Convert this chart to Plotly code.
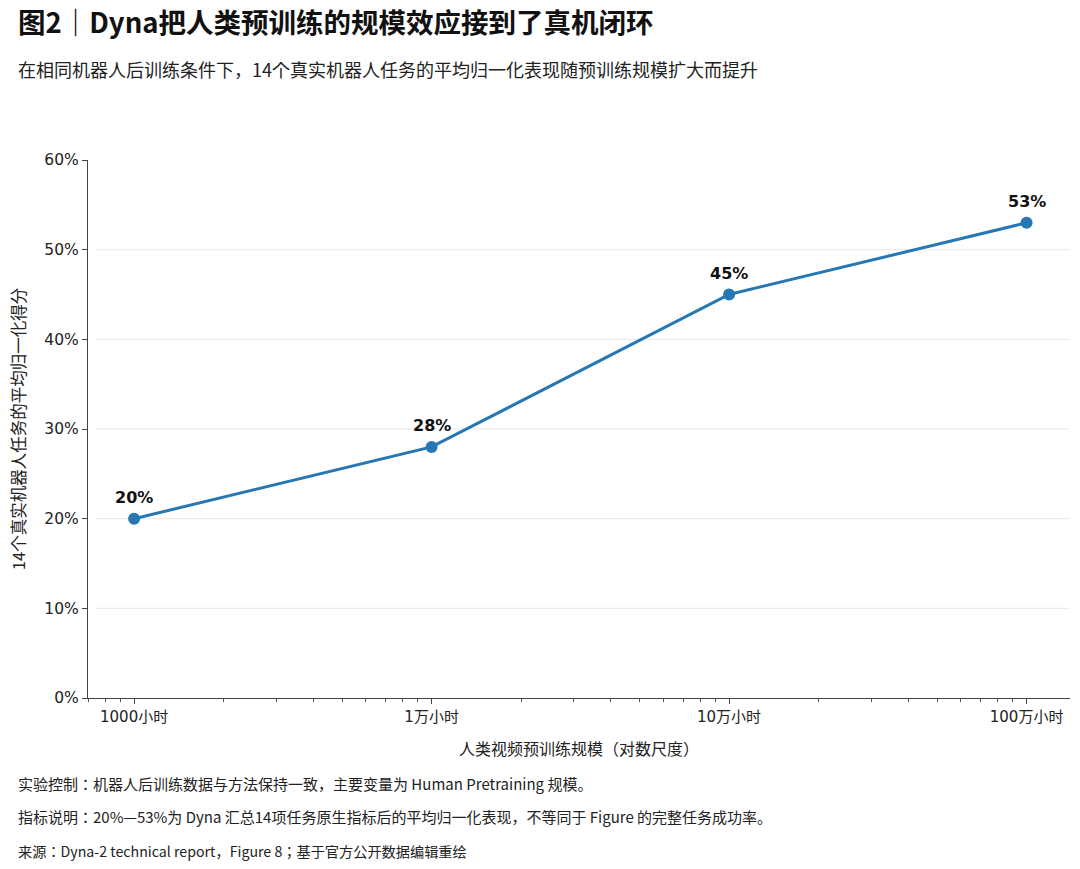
import math
import plotly.graph_objects as go

# ---- data ----
hours = [1000, 10000, 100000, 1000000]
tick_text = ["1000小时", "1万小时", "10万小时", "100万小时"]
scores = [20, 28, 45, 53]
point_labels = ["20%", "28%", "45%", "53%"]
y_ticks = [0, 10, 20, 30, 40, 50, 60]
y_tick_text = ["0%", "10%", "20%", "30%", "40%", "50%", "60%"]

title = "图2｜Dyna把人类预训练的规模效应接到了真机闭环"
subtitle = "在相同机器人后训练条件下，14个真实机器人任务的平均归一化表现随预训练规模扩大而提升"
x_title = "人类视频预训练规模（对数尺度）"
y_title = "14个真实机器人任务的平均归一化得分"
notes = [
    "实验控制：机器人后训练数据与方法保持一致，主要变量为 Human Pretraining 规模。",
    "指标说明：20%—53%为 Dyna 汇总14项任务原生指标后的平均归一化表现，不等同于 Figure 的完整任务成功率。",
    "来源：Dyna-2 technical report，Figure 8；基于官方公开数据编辑重绘",
]

W, H = 1080, 869
M_L, M_R, M_T, M_B = 88, 10, 160, 171
PLOT_H = H - M_T - M_B

def py_to_paper(py):
    return (H - M_B - py) / PLOT_H

def px_to_paper(px):
    return (px - M_L) / (W - M_L - M_R)

BLUE = "#2677b4"
num_font = "DejaVu Sans, Noto Sans CJK JP"
cjk_font = "Noto Sans CJK JP"

minor_vals = [m * 10 ** e for e in range(2, 7) for m in range(2, 10)]

fig = go.Figure()
fig.add_trace(go.Scatter(
    x=hours, y=scores, mode="lines+markers",
    line=dict(color=BLUE, width=3),
    marker=dict(color=BLUE, size=12),
    hoverinfo="skip", showlegend=False,
))

for xv, yv, lab in zip(hours, scores, point_labels):
    fig.add_annotation(x=math.log10(xv), y=yv, xref="x", yref="y", text=f"<b>{lab}</b>",
                       showarrow=False, yshift=21,
                       font=dict(family=num_font, size=16, color="#111111"))

# horizontal gridlines (no line at top)
for yv in y_ticks[1:-1]:
    fig.add_shape(type="line", xref="paper", yref="y", x0=0.008, x1=1, y0=yv, y1=yv,
                  line=dict(color="#e8e8e8", width=1), layer="below")

fig.update_xaxes(
    type="log", range=[2.845, 6.146],
    tickvals=hours, ticktext=tick_text,
    tickfont=dict(family=num_font, size=15, color="#222222"),
    ticks="outside", ticklen=5, tickwidth=1, tickcolor="#444444",
    showline=True, linecolor="#444444", linewidth=1.3,
    showgrid=False, zeroline=False,
    minor=dict(tickmode="array", tickvals=minor_vals, ticks="outside", ticklen=3,
               tickcolor="#555555", showgrid=False),
    title=dict(text=x_title, font=dict(family=cjk_font, size=16, color="#222222"), standoff=18),
)
fig.update_yaxes(
    range=[0, 60], tickvals=y_ticks, ticktext=y_tick_text,
    tickfont=dict(family=num_font, size=15.5, color="#222222"),
    ticks="outside", ticklen=5, tickwidth=1, tickcolor="#444444",
    showline=True, linecolor="#444444", linewidth=1.3,
    showgrid=False, zeroline=False,
    title=dict(text=y_title, font=dict(family=cjk_font, size=16.5, color="#222222"), standoff=14),
)

fig.update_layout(
    width=W, height=H,
    margin=dict(l=M_L, r=M_R, t=M_T, b=M_B),
    paper_bgcolor="white", plot_bgcolor="white",
    title=dict(text=f"<b>{title}</b>", x=18 / W, xanchor="left", xref="container",
               y=1 - 23 / H, yanchor="middle", yref="container",
               font=dict(family=cjk_font, size=27.5, color="#111111")),
)

fig.add_annotation(text=subtitle, xref="paper", yref="paper",
                   x=px_to_paper(16), y=py_to_paper(69), xanchor="left", yanchor="middle",
                   showarrow=False, font=dict(family=cjk_font, size=18, color="#222222"))

note_y = [783, 817, 851]
note_sizes = [15, 15, 14.2]
for t, yy, sz in zip(notes, note_y, note_sizes):
    fig.add_annotation(text=t, xref="paper", yref="paper",
                       x=px_to_paper(16), y=py_to_paper(yy), xanchor="left", yanchor="middle",
                       showarrow=False, font=dict(family=cjk_font, size=sz, color="#222222"))

fig.write_html("out.html", config={"displayModeBar": False},
               post_script="document.body.style.margin='0';document.body.style.overflow='hidden';")
